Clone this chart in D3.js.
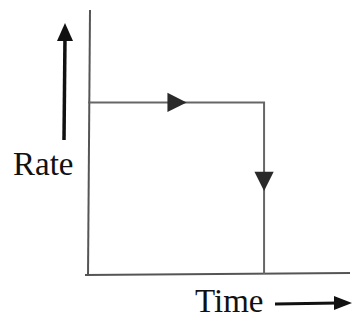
<!DOCTYPE html>
<html>
<head>
<meta charset="utf-8">
<script src="https://cdn.jsdelivr.net/npm/d3@7"></script>
<style>
	body { margin: 0; background: #fff; }
</style>
</head>
<body>
<div id="chart"></div>
<script>
// step path: rate stays level, then falls to zero
var times = [0, 0.672, 0.672];
var rates = [0.65, 0.65, 0];
var axisLabels = ["Rate", "Time"];

var width = 355, height = 318;
var x = d3.scaleLinear().domain([0, 1]).range([88, 350]);
var y = d3.scaleLinear().domain([0, 1]).range([274, 10]);

var svg = d3.select("#chart").append("svg")
	.attr("width", width)
	.attr("height", height);

// axes (plain lines, no ticks)
svg.append("line")
	.attr("x1", x(0) + 2).attr("y1", y(1))
	.attr("x2", x(0)).attr("y2", y(0) + 2)
	.attr("stroke", "#555").attr("stroke-width", 2);
svg.append("line")
	.attr("x1", x(0) - 3).attr("y1", y(0) + 1)
	.attr("x2", x(1)).attr("y2", y(0) - 1)
	.attr("stroke", "#555").attr("stroke-width", 2);

var pts = times.map(function(t, i) { return [x(t), y(rates[i])]; });

svg.append("path")
	.attr("d", d3.line()(pts))
	.attr("fill", "none")
	.attr("stroke", "#666")
	.attr("stroke-width", 2);

// direction arrows on each segment
function tri(cx, cy, angle, size) {
	return svg.append("path")
		.attr("d", "M " + (size * 0.6) + " 0 L " + (-size * 0.6) + " " + (-size * 0.6) + " L " + (-size * 0.6) + " " + (size * 0.6) + " Z")
		.attr("fill", "#2a2a2a")
		.attr("transform", "translate(" + cx + "," + cy + ") rotate(" + angle + ")");
}
tri((pts[0][0] + pts[1][0]) / 2 + 1, pts[0][1], 0, 16);
tri(pts[1][0], pts[1][1] + (pts[2][1] - pts[1][1]) * 0.46, 90, 16);

// label arrows
svg.append("line")
	.attr("x1", 64).attr("y1", 140).attr("x2", 65).attr("y2", 36)
	.attr("stroke", "#111").attr("stroke-width", 3.5);
svg.append("path")
	.attr("d", "M 65 23 L 57 41 L 73 41 Z")
	.attr("fill", "#111");

svg.append("line")
	.attr("x1", 275).attr("y1", 304).attr("x2", 338).attr("y2", 303)
	.attr("stroke", "#111").attr("stroke-width", 3);
svg.append("path")
	.attr("d", "M 352 303 L 334 296 L 334 310 Z")
	.attr("fill", "#111");

svg.append("text")
	.attr("x", 13).attr("y", 175)
	.style("font-family", "Liberation Serif")
	.attr("font-size", 33)
	.attr("fill", "#111")
	.text(axisLabels[0]);
svg.append("text")
	.attr("x", 195).attr("y", 312)
	.style("font-family", "Liberation Serif")
	.attr("font-size", 33)
	.attr("fill", "#111")
	.text(axisLabels[1]);
</script>
</body>
</html>
